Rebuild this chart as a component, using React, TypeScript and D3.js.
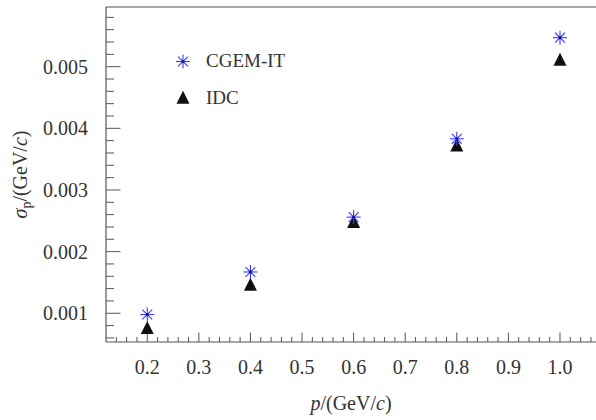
import React from "react";
import * as d3 from "d3";

const momenta = [0.2, 0.4, 0.6, 0.8, 1.0];
const cgemValues = [0.00098, 0.00167, 0.00256, 0.00383, 0.00547];
const idcValues = [0.00076, 0.00146, 0.00248, 0.00372, 0.00511];
const xTickLabels = ["0.2", "0.3", "0.4", "0.5", "0.6", "0.7", "0.8", "0.9", "1.0"];
const yTickLabels = ["0.001", "0.002", "0.003", "0.004", "0.005"];
const seriesNames = ["CGEM-IT", "IDC"];

const W = 596;
const H = 420;
const left = 106, top = 7, right = 596, bottom = 342;
const AXIS = "#555";
const BLUE = "#3b3bff";
const TXT = "#333";
const FONT = "Liberation Serif";

function Star({ cx, cy, r }: { cx: number; cy: number; r: number }) {
  const d = r * Math.SQRT1_2;
  return (
    <g stroke={BLUE} strokeWidth={1.1}>
      <line x1={cx - r} y1={cy} x2={cx + r} y2={cy} />
      <line x1={cx} y1={cy - r} x2={cx} y2={cy + r} />
      <line x1={cx - d} y1={cy - d} x2={cx + d} y2={cy + d} />
      <line x1={cx - d} y1={cy + d} x2={cx + d} y2={cy - d} />
      <circle cx={cx} cy={cy} r={1.6} fill="#1a1a8a" stroke="none" />
    </g>
  );
}

function Tri({ cx, cy, s }: { cx: number; cy: number; s: number }) {
  const h = s;
  const p = `${cx},${cy - h * 0.55} ${cx + s / 2},${cy + h * 0.45} ${cx - s / 2},${cy + h * 0.45}`;
  return <polygon points={p} fill="#111" />;
}

export default function App() {
  const x = d3.scaleLinear().domain([0.12, 1.0698]).range([left, right]);
  const y = d3.scaleLinear().domain([0.000534, 0.005968]).range([bottom, top]);

  const xMinor = d3.range(0.14, 1.07, 0.02).map((v) => +v.toFixed(2));
  const xMajor = xTickLabels.map(Number);
  const yMinor = d3.range(0.0006, 0.00597, 0.0002).map((v) => +v.toFixed(4));
  const yMajor = yTickLabels.map(Number);

  const isMajorX = (v: number) => xMajor.some((m) => Math.abs(m - v) < 1e-6);
  const isMajorY = (v: number) => yMajor.some((m) => Math.abs(m - v) < 1e-7);

  const ts: React.CSSProperties = { fontFamily: FONT };

  return (
    <svg width={W} height={H} style={{ position: "absolute", left: 0, top: 0, background: "#fff" }}>
      {/* frame */}
      <line x1={left} y1={top} x2={right} y2={top} stroke={AXIS} strokeWidth={1.2} />
      <line x1={left} y1={top} x2={left} y2={bottom} stroke={AXIS} strokeWidth={1.2} />
      <line x1={left} y1={bottom} x2={right} y2={bottom} stroke={AXIS} strokeWidth={1.2} />

      {/* x ticks */}
      {xMinor.map((v) => {
        const len = isMajorX(v) ? 9.5 : 5;
        return <line key={"xt" + v} x1={x(v)} x2={x(v)} y1={bottom} y2={bottom - len} stroke={AXIS} strokeWidth={1} />;
      })}
      {xMajor.map((v, i) => (
        <text key={"xl" + v} x={x(v)} y={374} textAnchor="middle" fontSize={20} fill={TXT} style={ts}>
          {xTickLabels[i]}
        </text>
      ))}

      {/* y ticks */}
      {yMinor.map((v) => {
        const len = isMajorY(v) ? 14.5 : 8;
        return <line key={"yt" + v} x1={left} x2={left + len} y1={y(v)} y2={y(v)} stroke={AXIS} strokeWidth={1} />;
      })}
      {yMajor.map((v, i) => (
        <text key={"yl" + v} x={88} y={y(v)} dy="0.35em" textAnchor="end" fontSize={20} fill={TXT} style={ts}>
          {yTickLabels[i]}
        </text>
      ))}

      {/* axis titles */}
      <text x={351} y={410} textAnchor="middle" fontSize={20} fill={TXT} style={ts}>
        <tspan fontStyle="italic">p</tspan>/(GeV/<tspan fontStyle="italic">c</tspan>)
      </text>
      <text transform={`translate(27,${(top + bottom) / 2}) rotate(-90)`} textAnchor="middle" fontSize={20} fill={TXT} style={ts}>
        <tspan fontStyle="italic">σ</tspan>
        <tspan fontSize={14} dy={4}>p</tspan>
        <tspan dy={-4}>/(GeV/</tspan>
        <tspan fontStyle="italic">c</tspan>
        <tspan>)</tspan>
      </text>

      {/* data */}
      {momenta.map((m, i) => (
        <Tri key={"idc" + i} cx={x(m)} cy={y(idcValues[i])} s={13} />
      ))}
      {momenta.map((m, i) => (
        <Star key={"cg" + i} cx={x(m)} cy={y(cgemValues[i])} r={7} />
      ))}

      {/* legend */}
      <Star cx={183} cy={61.5} r={7} />
      <text x={206} y={67} fontSize={19} fill={TXT} style={ts}>{seriesNames[0]}</text>
      <Tri cx={183} cy={98} s={13} />
      <text x={206} y={104} fontSize={19} fill={TXT} style={ts}>{seriesNames[1]}</text>
    </svg>
  );
}
